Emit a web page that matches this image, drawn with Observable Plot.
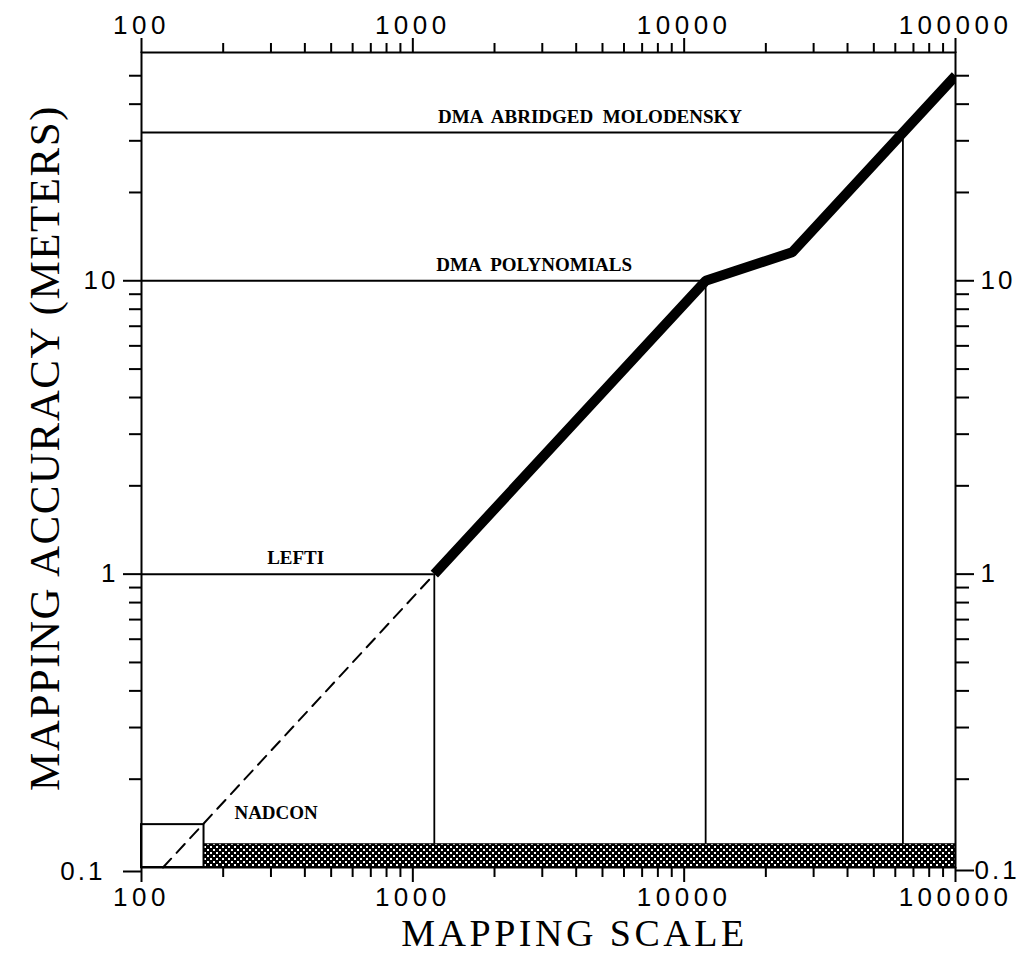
<!DOCTYPE html>
<html>
<head>
<meta charset="utf-8">
<script src="https://cdn.jsdelivr.net/npm/d3@7"></script>
<script src="https://cdn.jsdelivr.net/npm/@observablehq/plot@0.6"></script>
<style>
  html, body { margin: 0; padding: 0; background: #ffffff; overflow: hidden; }
  #chart svg { display: block; }
  #chart g[aria-label="x-axis tick label"] { font-size: 26px; letter-spacing: 4.5px; }
  #chart g[aria-label="y-axis tick label"] { font-size: 26px; letter-spacing: 3px; }
</style>
</head>
<body>
<div id="chart"></div>
<script>
// ---- data ----
const xMajor = [100, 1000, 10000, 100000];
const xMinor = [200,300,400,500,600,700,800,900,2000,3000,4000,5000,6000,7000,8000,9000,20000,30000,40000,50000,60000,70000,80000,90000];
const yMajor = [1, 10];
const yBottom = [0.1];
const yMinor = [0.2,0.3,0.4,0.5,0.6,0.7,0.8,0.9,2,3,4,5,6,7,8,9,20,30,40,50];

// thick "achievable accuracy" line
const thickScale = [1200, 12000, 25000, 100000];
const thickAcc = [1, 10, 12.5, 50];

// dashed extension
const dashScale = [120, 1200];
const dashAcc = [0.1, 1];

// method accuracy levels (horizontal lines from left edge)
const methodNames = ["DMA  ABRIDGED  MOLODENSKY", "DMA  POLYNOMIALS", "LEFTI"];
const methodAcc = [32, 10, 1];
const methodEnd = [64000, 12000, 1200];
const methodLabelX = [4500, 2800, 370];

// NADCON
const nadconBox = {x1: 100, x2: 170, y1: 0.1, y2: 0.14};
const nadconBand = {x1: 170, x2: 100000, y1: 0.1, y2: 0.12};
const nadconLabel = {name: "NADCON", x: 220, y: 0.14};

// ---- build tables ----
const thick = thickScale.map((s, i) => ({s, a: thickAcc[i]}));
const dash = dashScale.map((s, i) => ({s, a: dashAcc[i]}));
const methods = methodNames.map((n, i) => ({n, a: methodAcc[i], end: methodEnd[i], lx: methodLabelX[i]}));

const serif = "'Liberation Serif', 'Times New Roman', serif";
const fmt = d => String(d);

const plot = Plot.plot({
  width: 1021,
  height: 954,
  marginLeft: 141,
  marginRight: 66,
  marginTop: 52,
  marginBottom: 87,
  style: {background: "#ffffff", fontFamily: "'Liberation Sans', Arial, sans-serif", color: "#000"},
  x: {type: "log", domain: [100, 100000], label: null},
  y: {type: "log", domain: [0.1, 60], label: null},
  marks: [
    // NADCON hatched band and box
    Plot.rect([nadconBand], {x1: "x1", x2: "x2", y1: "y1", y2: "y2", fill: "url(#hatch)", stroke: "#000", strokeWidth: 1}),
    Plot.rect([nadconBox], {x1: "x1", x2: "x2", y1: "y1", y2: "y2", fill: "none", stroke: "#000", strokeWidth: 2}),
    // horizontal method lines
    Plot.ruleY(methods, {y: "a", x1: 100, x2: "end", stroke: "#000", strokeWidth: 2}),
    // vertical drops to NADCON band
    Plot.ruleX(methods, {x: "end", y1: nadconBand.y2, y2: "a", stroke: "#000", strokeWidth: 1.8}),
    // dashed line
    Plot.line(dash, {x: "s", y: "a", stroke: "#000", strokeWidth: 2, strokeDasharray: "12,8"}),
    // thick line
    Plot.line(thick, {x: "s", y: "a", stroke: "#000", strokeWidth: 10, strokeLinejoin: "miter", strokeLinecap: "butt", clip: true}),
    // labels
    Plot.text(methods, {x: "lx", y: "a", text: "n", dy: -10, lineAnchor: "bottom", textAnchor: "middle",
      fontFamily: serif, fontWeight: "bold", fontSize: 19, fill: "#000"}),
    Plot.text([nadconLabel], {x: "x", y: "y", text: "name", dy: -6, lineAnchor: "bottom", textAnchor: "start",
      fontFamily: serif, fontWeight: "bold", fontSize: 19, fill: "#000"}),
    // frame
    Plot.frame({stroke: "#000", strokeWidth: 2}),
    // axes: bottom
    Plot.axisX({anchor: "bottom", ticks: xMajor, tickSize: 15, tickPadding: 5, tickFormat: fmt, strokeWidth: 2}),
    Plot.axisX({anchor: "bottom", ticks: xMinor, tickSize: 10, tickFormat: () => "", strokeWidth: 2}),
    // top
    Plot.axisX({anchor: "top", ticks: xMajor, tickSize: 15, tickPadding: 4, tickFormat: fmt, strokeWidth: 2}),
    Plot.axisX({anchor: "top", ticks: xMinor, tickSize: 10, tickFormat: () => "", strokeWidth: 2}),
    // left
    Plot.axisY({anchor: "left", ticks: yMajor, tickSize: 18, tickPadding: 5, tickFormat: fmt, strokeWidth: 2}),
    Plot.axisY({anchor: "left", ticks: yBottom, tickSize: 18, tickPadding: 18, tickFormat: fmt, strokeWidth: 2, dy: 4}),
    Plot.axisY({anchor: "left", ticks: yMinor, tickSize: 12, tickFormat: () => "", strokeWidth: 2}),
    // right
    Plot.axisY({anchor: "right", ticks: yMajor, tickSize: 18, tickPadding: 7, tickFormat: fmt, strokeWidth: 2}),
    Plot.axisY({anchor: "right", ticks: yBottom, tickSize: 18, tickPadding: 1, tickFormat: fmt, strokeWidth: 2, dy: 3}),
    Plot.axisY({anchor: "right", ticks: yMinor, tickSize: 13, tickFormat: () => "", strokeWidth: 2}),
    // axis titles
    Plot.text(["MAPPING SCALE"], {frameAnchor: "bottom", dx: 26, dy: 66, lineAnchor: "middle", textAnchor: "middle",
      fontFamily: serif, fontSize: 38, fill: "#000"}),
    Plot.text(["MAPPING ACCURACY (METERS)"], {frameAnchor: "left", dx: -96, dy: -12, rotate: -90, lineAnchor: "middle", textAnchor: "middle",
      fontFamily: serif, fontSize: 43, fill: "#000"})
  ]
});

// letter spacing of the titles (wide spacing of the original)
const sel = d3.select(plot);
sel.selectAll("text").filter(function () { return this.textContent === "MAPPING SCALE"; }).attr("letter-spacing", "3.5px");
sel.selectAll("text").filter(function () { return this.textContent.startsWith("MAPPING ACCURACY"); }).attr("letter-spacing", "1.5px");

// hatch pattern definition
const ns = "http://www.w3.org/2000/svg";
const defs = document.createElementNS(ns, "defs");
const pat = document.createElementNS(ns, "pattern");
pat.setAttribute("id", "hatch");
pat.setAttribute("patternUnits", "userSpaceOnUse");
pat.setAttribute("width", "6");
pat.setAttribute("height", "6");
const bg = document.createElementNS(ns, "rect");
bg.setAttribute("width", "6"); bg.setAttribute("height", "6"); bg.setAttribute("fill", "#000");
pat.appendChild(bg);
[[0, 0], [3, 3]].forEach(([px, py]) => {
  const d = document.createElementNS(ns, "rect");
  d.setAttribute("x", px); d.setAttribute("y", py);
  d.setAttribute("width", "2"); d.setAttribute("height", "2"); d.setAttribute("fill", "#fff");
  pat.appendChild(d);
});
defs.appendChild(pat);
plot.insertBefore(defs, plot.firstChild);

document.getElementById("chart").appendChild(plot);
</script>
</body>
</html>
